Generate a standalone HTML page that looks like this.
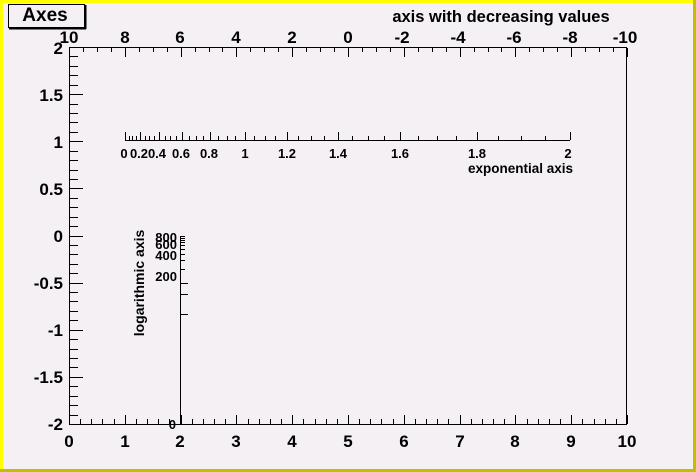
<!DOCTYPE html>
<html><head><meta charset="utf-8"><style>
html,body{margin:0;padding:0;background:#f4f0f4}
svg{display:block}
text{font-family:"Liberation Sans",Arial,sans-serif;font-weight:bold;fill:#000}
</style></head><body>
<svg id="s" width="696" height="472" xmlns="http://www.w3.org/2000/svg">
<rect x="0" y="0" width="696" height="472" fill="#f4f0f4"/>
<path d="M0,1H696M1,0V472" stroke="#ffff00" stroke-width="4"/>
<path d="M694.5,0V472M0,470.5H696" stroke="#c0c000" stroke-width="3"/>
<rect x="8.5" y="4.5" width="76" height="23" fill="#f4f0f4" stroke="#000"/>
<path d="M9,28.5H86M85.5,5V29" stroke="#000" stroke-width="2"/>
<text x="45" y="21" font-size="19" text-anchor="middle">Axes</text>
<g id="ticks" stroke="#000" fill="none" stroke-width="1"></g>
<g font-size="17" text-anchor="middle">
<text x="69" y="447">0</text><text x="125" y="447">1</text><text x="180" y="447">2</text><text x="236" y="447">3</text><text x="292" y="447">4</text><text x="348" y="447">5</text><text x="404" y="447">6</text><text x="460" y="447">7</text><text x="515" y="447">8</text><text x="571" y="447">9</text><text x="627" y="447">10</text>
<text x="69" y="43">10</text><text x="125" y="43">8</text><text x="180" y="43">6</text><text x="236" y="43">4</text><text x="292" y="43">2</text><text x="348" y="43">0</text><text x="402" y="43">-2</text><text x="458" y="43">-4</text><text x="514" y="43">-6</text><text x="570" y="43">-8</text><text x="625" y="43">-10</text>
</g>
<g font-size="17" text-anchor="end">
<text x="63" y="54">2</text><text x="63" y="101">1.5</text><text x="63" y="148">1</text><text x="63" y="195">0.5</text><text x="63" y="242">0</text><text x="63" y="289">-0.5</text><text x="63" y="336">-1</text><text x="63" y="383">-1.5</text><text x="63" y="430">-2</text>
</g>
<text x="501" y="22" font-size="16.5" text-anchor="middle">axis with decreasing values</text>
<g font-size="13" text-anchor="middle">
<text x="124" y="158">0</text><text x="139" y="158">0.2</text><text x="157" y="158">0.4</text><text x="181" y="158">0.6</text><text x="209" y="158">0.8</text><text x="245" y="158">1</text><text x="287" y="158">1.2</text><text x="338" y="158">1.4</text><text x="400" y="158">1.6</text><text x="477" y="158">1.8</text><text x="568" y="158">2</text>
</g>
<text x="573" y="173" font-size="13.5" text-anchor="end">exponential axis</text>
<g font-size="13" text-anchor="end">
<text x="177" y="242">800</text><text x="177" y="249">600</text><text x="177" y="260">400</text><text x="177" y="281">200</text><text x="176" y="429">0</text>
</g>
<text transform="translate(144,283) rotate(-90)" font-size="14" text-anchor="middle">logarithmic axis</text>
</svg>
<script>
var d="";
function L(x1,y1,x2,y2){d+="M"+x1+","+y1+"L"+x2+","+y2;}
L(69.5,47,69.5,424.5);L(69,424.5,627,424.5);L(69,47.5,627,47.5);L(626.5,47,626.5,424.5);
for(var i=0;i<=50;i++){var x=Math.round(69+i*55.8/5)+.5;L(x,424,x,i%5?419:415);}
for(var i=0;i<=40;i++){var x=Math.round(69+i*558/40)+.5;L(x,48,x,i%4?52:57);}
for(var i=0;i<=40;i++){var y=Math.round(47+i*377/40)+.5;L(70,y,i%5?78:83,y);}
L(125,140.5,570,140.5);
for(var i=0;i<=40;i++){var v=i*0.05;var x=Math.round(125+445*(Math.exp(v)-1)/(Math.exp(2)-1))+.5;L(x,140,x,i%4?136:132);}
L(180.5,236,180.5,424);
[236,238,240,242,245,249,254,260,269,283,294,314].forEach(function(y,k){L(181,y+.5,k>=9?188:185,y+.5);});
var p=document.createElementNS("http://www.w3.org/2000/svg","path");p.setAttribute("d",d);p.setAttribute("stroke","#000");p.setAttribute("fill","none");
document.getElementById("ticks").appendChild(p);
</script>
</body></html>
